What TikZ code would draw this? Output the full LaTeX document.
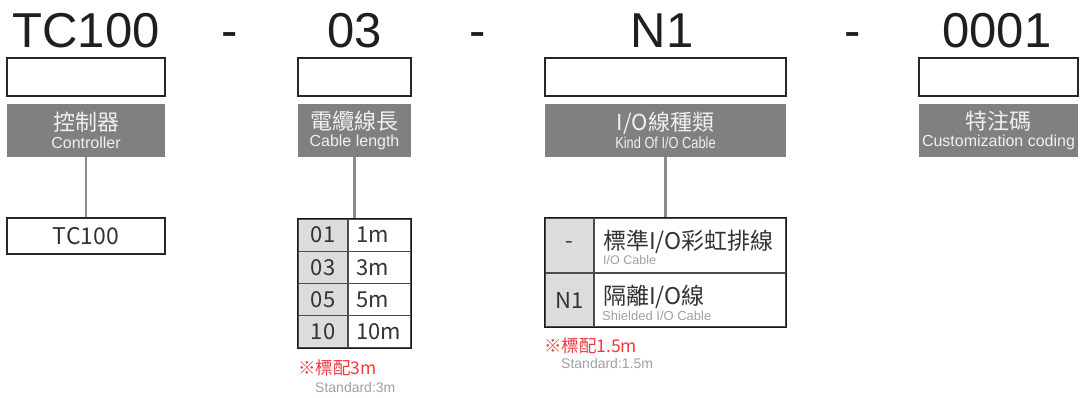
\documentclass[tikz,border=0pt]{standalone}
\usepackage{fontspec}
\setmainfont{Liberation Sans}
\newfontfamily\cjk{Noto Sans CJK TC}
\newfontfamily\narrowsans[FakeStretch=0.8]{Liberation Sans}
\usepackage{xcolor}
\usetikzlibrary{fit}

\definecolor{catgray}{HTML}{808082}
\definecolor{keygray}{HTML}{DCDCDE}
\definecolor{linkgray}{HTML}{8C8C8E}
\definecolor{notered}{HTML}{F0393C}
\definecolor{subgray}{HTML}{A0A0A0}
\definecolor{inkgray}{HTML}{333333}

\begin{document}
\begin{tikzpicture}[x=1pt, y=-1pt,
    codetext/.style={anchor=base, inner sep=0pt, text=black!88, font=\fontsize{49}{49}\selectfont},
    codebox/.style={draw=black!85, line width=1.2pt, minimum width=#1, minimum height=38pt, inner sep=0pt},
    catbox/.style={fill=catgray, text=white!94!black, minimum width=#1, minimum height=53pt, inner sep=0pt,
        align=center, font=\fontsize{16}{17.5}\selectfont},
    itembox/.style={draw=black!85, line width=1.2pt, text=inkgray, minimum width=#1, minimum height=36pt,
        inner sep=0pt, font=\cjk\fontsize{23}{23}\selectfont},
    keycell/.style={draw=black!70, line width=1.2pt, fill=keygray, text=inkgray, minimum width=#1,
        inner sep=0pt, font=\cjk\fontsize{22}{22}\selectfont},
    lencell/.style={draw=black!70, line width=1.2pt, text=inkgray, minimum height=32.25pt, inner xsep=8pt,
        inner ysep=0pt, text width=47pt, align=left, font=\cjk\fontsize{22}{22}\selectfont},
    kindcell/.style={draw=black!70, line width=1.2pt, minimum width=192pt, inner sep=0pt},
    tablebox/.style={draw=black!90, line width=1.4pt, inner sep=0pt},
    mainlabel/.style={anchor=base west, inner sep=0pt, text=inkgray, font=\cjk\fontsize{23}{23}\selectfont},
    sublabel/.style={anchor=base west, inner sep=0pt, text=subgray, font=\fontsize{12.5}{12.5}\selectfont},
    rednote/.style={anchor=base west, inner sep=0pt, text=notered, font=\cjk\fontsize{17.5}{17.5}\selectfont},
    stdnote/.style={anchor=base west, inner sep=0pt, text=subgray, font=\fontsize{14}{14}\selectfont},
    link/.style={draw=linkgray, line width=2.5pt}]
    \useasboundingbox (0,0) rectangle (1081,397);
    % model code on top
    \node[codetext] (codeA) at (86,47) {TC100};
    \node[codetext] (sepA) at (230,47) {-};
    \node[codetext] (codeB) at (354.5,47) {03};
    \node[codetext] (sepB) at (478,47) {-};
    \node[codetext] (codeC) at (662,47) {N1};
    \node[codetext] (sepC) at (853,47) {-};
    \node[codetext] (codeD) at (997,47) {0001};
    % empty code boxes
    \node[codebox=158pt] (boxA) at (86,77) {};
    \node[codebox=113pt] (boxB) at (354.5,77) {};
    \node[codebox=241pt] (boxC) at (665.5,77) {};
    \node[codebox=159pt] (boxD) at (998.5,77) {};
    % gray category boxes
    \node[catbox=158pt] (catA) at (86,130.5) {{\cjk\fontsize{22}{22}\selectfont 控制器}\\Controller};
    \node[catbox=113pt] (catB) at (354.5,130.5) {{\cjk\fontsize{22}{22}\selectfont 電纜線長}\\Cable length};
    \node[catbox=241pt] (catC) at (665.5,130.5) {{\cjk\fontsize{22}{22}\selectfont I/O線種類}\\{\narrowsans Kind Of I/O Cable}};
    \node[catbox=159pt] (catD) at (998.5,130.5) {{\cjk\fontsize{22}{22}\selectfont 特注碼}\\Customization coding};
    % controller
    \node[itembox=158pt] (itemA) at (86,236) {TC100};
    \draw[link] (catA) -- (itemA);
    % cable length table
    \foreach \code/\len [count=\i] in {01/1m,03/3m,05/5m,10/10m} {
        \node[keycell=50pt, minimum height=32.25pt] (lenkey\i) at (323,{202.875+32.25*\i}) {\code};
        \node[lencell] (lenval\i) at (379.5,{202.875+32.25*\i}) {\len};
    }
    \node[tablebox, fit=(lenkey1)(lenval4)] (lentab) {};
    \draw[link] (catB) -- (lentab);
    \node[rednote] (lennote) at (298,374) {※標配3m};
    \node[stdnote] (lenstd) at (315,392) {Standard:3m};
    % I/O cable table
    \node[keycell=49pt, minimum height=55pt] (kindkey1) at (569.5,245.5) {-};
    \node[kindcell, minimum height=55pt] (kindval1) at (690,245.5) {};
    \node[keycell=49pt, minimum height=54pt] (kindkey2) at (569.5,300) {N1};
    \node[kindcell, minimum height=54pt] (kindval2) at (690,300) {};
    \node[mainlabel] (kindname1) at (603,249) {標準I/O彩虹排線};
    \node[sublabel] (kindsub1) at (603,264) {I/O Cable};
    \node[mainlabel] (kindname2) at (603,304) {隔離I/O線};
    \node[sublabel, font=\fontsize{13}{13}\selectfont] (kindsub2) at (602,320) {Shielded I/O Cable};
    \node[tablebox, fit=(kindkey1)(kindval2)] (kindtab) {};
    \draw[link] (catC) -- (kindtab);
    \node[rednote] (kindnote) at (544,352) {※標配1.5m};
    \node[stdnote] (kindstd) at (561,368) {Standard:1.5m};
\end{tikzpicture}
\end{document}
